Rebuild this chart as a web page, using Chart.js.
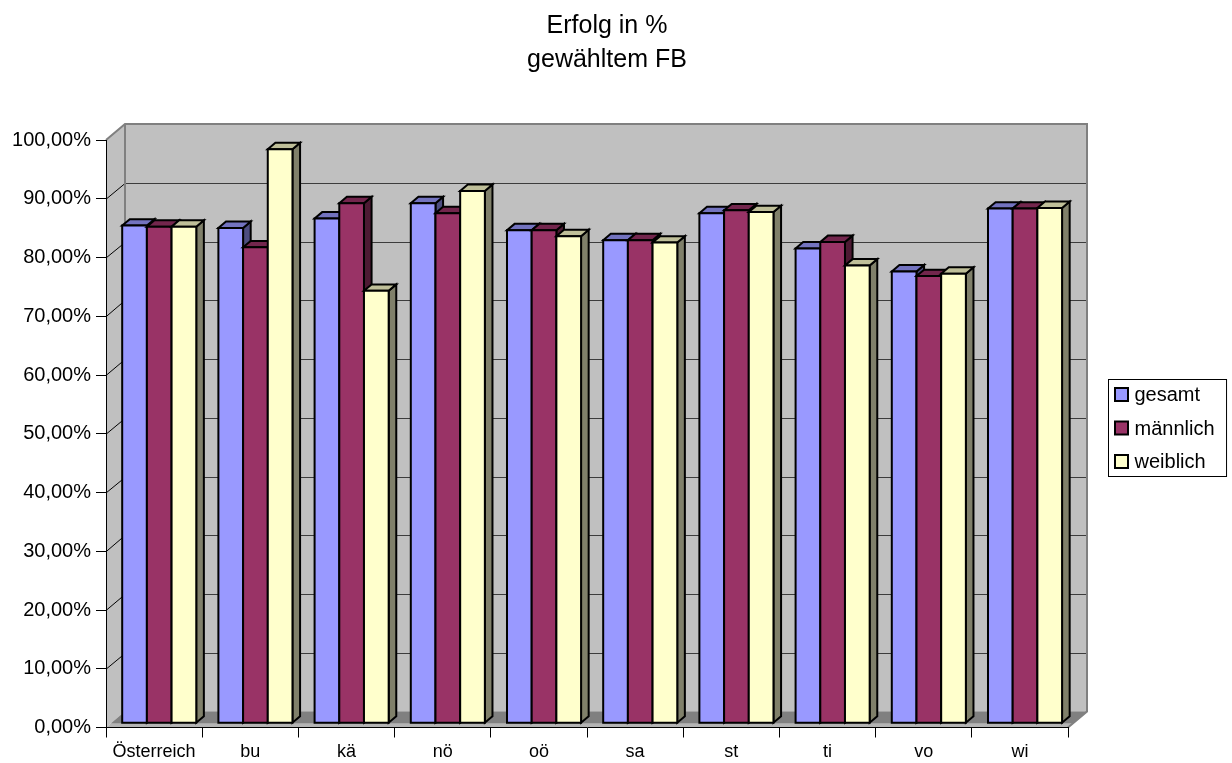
<!DOCTYPE html>
<html>
<head>
<meta charset="utf-8">
<title>Erfolg in % gewähltem FB</title>
<script src="https://cdn.jsdelivr.net/npm/chart.js@4.4.1/dist/chart.umd.min.js"></script>
<style>
  html, body { margin: 0; padding: 0; background: #fff; }
  #wrap { width: 1232px; height: 763px; position: relative; }
</style>
</head>
<body>
<div id="wrap"><canvas id="chart"></canvas></div>
<script>
// ---- data ----
const categories = ['Österreich', 'bu', 'kä', 'nö', 'oö', 'sa', 'st', 'ti', 'vo', 'wi'];
const seriesNames = ['gesamt', 'männlich', 'weiblich'];
const gesamt    = [84.7, 84.3, 85.9, 88.5, 83.9, 82.2, 86.8, 80.8, 76.9, 87.6];
const maennlich = [84.5, 81.0, 88.5, 86.8, 83.9, 82.2, 87.3, 81.9, 76.1, 87.6];
const weiblich  = [84.5, 97.7, 73.6, 90.6, 82.9, 81.8, 87.0, 77.9, 76.5, 87.7];
const yTickValues = [0, 10, 20, 30, 40, 50, 60, 70, 80, 90, 100];
const titleLines = ['Erfolg in %', 'gewähltem FB'];

// ---- styling ----
const FONT = '"Liberation Sans", Arial, sans-serif';
const frontColors = ['#9999FF', '#993366', '#FFFFCC'];
const topColors   = ['#7373BF', '#73264D', '#BFBF99'];
const sideColors  = ['#4D4D80', '#4D1A33', '#80806A'];

// 3D depth of the plot box (back wall offset from the front plane)
const DEPTH = { dx: 19, dy: -16 };
const BAR_PLANE = 0.27;   // fraction of depth where the bar fronts sit
const BAR_DEPTH = 0.40;   // fraction of depth taken by each bar

function fillPoly(ctx, pts, fill, stroke, lw) {
  ctx.beginPath();
  ctx.moveTo(pts[0][0], pts[0][1]);
  for (let i = 1; i < pts.length; i++) ctx.lineTo(pts[i][0], pts[i][1]);
  ctx.closePath();
  if (fill) { ctx.fillStyle = fill; ctx.fill(); }
  if (stroke) { ctx.strokeStyle = stroke; ctx.lineWidth = lw || 1; ctx.stroke(); }
}

function fmtPercent(v) {
  return v.toFixed(2).replace('.', ',') + '%';
}

// walls, floor and back-wall gridlines
const wallsPlugin = {
  id: 'walls3d',
  beforeDraw(chart) {
    const { ctx, chartArea: a, scales: { y } } = chart;
    const dx = DEPTH.dx, dy = DEPTH.dy;
    const L = a.left, R = a.right;
    const y0 = y.getPixelForValue(0), yT = y.getPixelForValue(100);
    ctx.save();
    ctx.fillStyle = '#fff';
    ctx.fillRect(0, 0, chart.width, chart.height);

    // back wall
    fillPoly(ctx, [[L + dx, yT + dy], [R + dx, yT + dy], [R + dx, y0 + dy], [L + dx, y0 + dy]], '#C0C0C0');
    // side wall
    fillPoly(ctx, [[L, yT], [L + dx, yT + dy], [L + dx, y0 + dy], [L, y0]], '#C0C0C0');
    // floor: lighter front edge, darker surface behind the bars
    fillPoly(ctx, [[L, y0], [R, y0], [R + dx, y0 + dy], [L + dx, y0 + dy]], '#B4B4B4');
    const fx = dx * BAR_PLANE, fy = dy * BAR_PLANE;
    fillPoly(ctx, [[L + fx, y0 + fy], [R + fx, y0 + fy], [R + dx, y0 + dy], [L + dx, y0 + dy]], '#808080');

    // gridlines on the back wall and the side wall
    ctx.lineWidth = 1;
    yTickValues.forEach(v => {
      if (v === 0 || v === 100) return;
      const py = Math.round(y.getPixelForValue(v) + dy) + 0.5;
      ctx.strokeStyle = '#3C3C3C';
      ctx.beginPath();
      ctx.moveTo(L + dx, py);
      ctx.lineTo(R + dx, py);
      ctx.stroke();
      ctx.strokeStyle = '#000';
      ctx.beginPath();
      ctx.moveTo(L, y.getPixelForValue(v) + 0.5);
      ctx.lineTo(L + dx, py);
      ctx.stroke();
    });

    // wall outlines
    ctx.strokeStyle = '#808080';
    ctx.lineWidth = 2;
    ctx.beginPath();
    ctx.moveTo(L, yT);
    ctx.lineTo(L + dx, yT + dy);
    ctx.lineTo(R + dx, yT + dy);
    ctx.lineTo(R + dx, y0 + dy);
    ctx.lineTo(R, y0);
    ctx.moveTo(L + dx, yT + dy);
    ctx.lineTo(L + dx, y0 + dy);
    ctx.stroke();
    ctx.restore();
  }
};

// bars with top and side faces, drawn from the bar elements' geometry
const bars3dPlugin = {
  id: 'bars3d',
  beforeDatasetsDraw(chart) {
    const ctx = chart.ctx;
    const ox = DEPTH.dx * BAR_PLANE, oy = DEPTH.dy * BAR_PLANE;
    const bx = DEPTH.dx * BAR_DEPTH, by = DEPTH.dy * BAR_DEPTH;
    const n = chart.data.labels.length;
    const nd = chart.data.datasets.length;
    ctx.save();
    ctx.lineJoin = 'miter';
    for (let i = 0; i < n; i++) {
      for (let d = 0; d < nd; d++) {
        const el = chart.getDatasetMeta(d).data[i];
        const p = el.getProps(['x', 'y', 'base', 'width'], true);
        const x1 = p.x - p.width / 2 + ox, x2 = p.x + p.width / 2 + ox;
        const yt = p.y + oy, yb = p.base + oy;
        fillPoly(ctx, [[x2, yt], [x2 + bx, yt + by], [x2 + bx, yb + by], [x2, yb]], sideColors[d], '#000', 2);
        fillPoly(ctx, [[x1, yt], [x2, yt], [x2 + bx, yt + by], [x1 + bx, yt + by]], topColors[d], '#000', 2);
        fillPoly(ctx, [[x1, yt], [x2, yt], [x2, yb], [x1, yb]], frontColors[d], '#000', 2);
      }
    }
    ctx.restore();
    return false;
  }
};

// framed legend to the right of the plot
const legendBoxPlugin = {
  id: 'legendBox',
  afterDraw(chart) {
    const { ctx, chartArea: a } = chart;
    ctx.save();
    ctx.font = '20px ' + FONT;
    const names = chart.data.datasets.map(ds => ds.label);
    const maxW = Math.max(...names.map(t => ctx.measureText(t).width));
    const rowH = 33.5;
    const lw = 26 + maxW + 12;
    const lh = rowH * names.length - 3.5;
    const lx = Math.round(a.right + 40) + 0.5;
    const ly = Math.round((a.top + a.bottom) / 2 - 6 - lh / 2) + 0.5;
    ctx.fillStyle = '#fff';
    ctx.fillRect(lx, ly, lw, lh);
    ctx.strokeStyle = '#000';
    ctx.lineWidth = 1;
    ctx.strokeRect(lx, ly, lw, lh);
    names.forEach((t, d) => {
      const cy = ly + 15 + d * rowH;
      ctx.fillStyle = frontColors[d];
      ctx.fillRect(lx + 6.5, cy - 6.5, 13, 13);
      ctx.lineWidth = 2;
      ctx.strokeRect(lx + 6.5, cy - 6.5, 13, 13);
      ctx.fillStyle = '#000';
      ctx.textBaseline = 'middle';
      ctx.textAlign = 'left';
      ctx.fillText(t, lx + 26, cy + 1);
    });
    ctx.restore();
  }
};

const seriesValues = [gesamt, maennlich, weiblich];

new Chart(document.getElementById('chart'), {
  type: 'bar',
  data: {
    labels: categories,
    datasets: seriesNames.map((name, d) => ({
      label: name,
      data: seriesValues[d],
      backgroundColor: frontColors[d],
      borderColor: '#000',
      borderWidth: 2
    }))
  },
  options: {
    responsive: true,
    maintainAspectRatio: false,
    animation: false,
    events: [],
    layout: { padding: { left: 0, right: 18, top: 0, bottom: 0 } },
    datasets: { bar: { categoryPercentage: 0.77, barPercentage: 1.0 } },
    plugins: {
      legend: { display: false },
      tooltip: { enabled: false },
      title: {
        display: true,
        text: titleLines,
        color: '#000',
        font: { family: FONT, size: 25, weight: 'normal', lineHeight: 1.36 },
        padding: { top: 9, bottom: 63 }
      }
    },
    scales: {
      x: {
        offset: true,
        afterFit(s) { s.height = 35.5; },
        grid: { offset: true, drawOnChartArea: false, drawTicks: true, tickLength: 10, color: '#000', lineWidth: 1 },
        border: { display: true, color: '#000', width: 1 },
        ticks: { color: '#000', font: { family: FONT, size: 18 }, padding: 4, maxRotation: 0, autoSkip: false }
      },
      y: {
        min: 0,
        max: 100,
        afterFit(s) { s.width = 106; },
        afterBuildTicks(s) { s.ticks = yTickValues.map(v => ({ value: v })); },
        grid: { drawOnChartArea: false, drawTicks: true, tickLength: 10, color: '#000', lineWidth: 1 },
        border: { display: true, color: '#000', width: 1 },
        ticks: { color: '#000', font: { family: FONT, size: 20 }, padding: 5, callback: v => fmtPercent(v) }
      },
      legendSpace: {
        type: 'linear',
        position: 'right',
        display: true,
        afterFit(s) { s.width = 146; },
        grid: { display: false },
        border: { display: false },
        ticks: { display: false }
      }
    }
  },
  plugins: [wallsPlugin, bars3dPlugin, legendBoxPlugin]
});
</script>
</body>
</html>
